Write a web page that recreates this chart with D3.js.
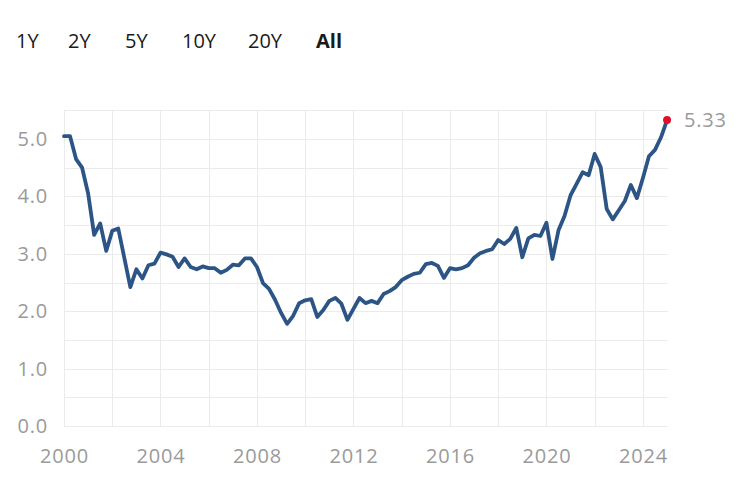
<!DOCTYPE html>
<html>
<head>
<meta charset="utf-8">
<script src="https://cdn.jsdelivr.net/npm/d3@7/dist/d3.min.js"></script>
<style>
  html, body { margin: 0; padding: 0; background: #fff; }
  svg { display: block; }
</style>
</head>
<body>
<svg id="chart" width="740" height="477"></svg>
<script>
const rangeButtons = ["1Y", "2Y", "5Y", "10Y", "20Y", "All"];
const activeButton = "All";
const startYear = 2000;
const values = [
  5.05, 5.05, 4.65, 4.50,
  4.05, 3.33, 3.53, 3.05,
  3.40, 3.44, 2.93, 2.42,
  2.73, 2.57, 2.80, 2.83,
  3.02, 2.99, 2.95, 2.77,
  2.92, 2.77, 2.73, 2.78,
  2.75, 2.75, 2.67, 2.72,
  2.81, 2.80, 2.92, 2.92,
  2.77, 2.49, 2.39, 2.20,
  1.97, 1.78, 1.92, 2.14,
  2.19, 2.21, 1.90, 2.02,
  2.18, 2.23, 2.13, 1.85,
  2.04, 2.23, 2.14, 2.18,
  2.14, 2.30, 2.35, 2.42,
  2.54, 2.60, 2.65, 2.67,
  2.82, 2.84, 2.79, 2.58,
  2.75, 2.73, 2.75, 2.80,
  2.93, 3.01, 3.05, 3.08,
  3.24, 3.17, 3.26, 3.45,
  2.94, 3.27, 3.33, 3.31,
  3.54, 2.91, 3.41, 3.66,
  4.02, 4.22, 4.42, 4.37,
  4.74, 4.51, 3.78, 3.60,
  3.76, 3.92, 4.20, 3.97,
  4.32, 4.70, 4.81, 5.03,
  5.33
];
const xTickLabels = [2000, 2004, 2008, 2012, 2016, 2020, 2024];
const xGrid = [2000, 2002, 2004, 2006, 2008, 2010, 2012, 2014, 2016, 2018, 2020, 2022, 2024];
const yTickLabels = [0, 1, 2, 3, 4, 5];
const yGrid = [0, 0.5, 1, 1.5, 2, 2.5, 3, 3.5, 4, 4.5, 5, 5.5];

const data = values.map((v, i) => ({ t: startYear + i / 4, v }));

const svg = d3.select("#chart");
const fontFam = "'Open Sans', 'Noto Sans', sans-serif";

// range buttons
const btnX = [16, 68, 125, 182, 248, 316];
svg.append("g").selectAll("text").data(rangeButtons).join("text")
  .attr("x", (d, i) => btnX[i])
  .attr("y", 48)
  .attr("font-family", fontFam)
  .attr("font-size", 20)
  .attr("font-weight", d => d === activeButton ? 700 : 400)
  .attr("fill", "#1a1a1a")
  .text(d => d);

const x = d3.scaleLinear().domain([2000, 2025.04]).range([64, 668]);
const y = d3.scaleLinear().domain([0, 5.5]).range([426, 110.3]);

const grid = svg.append("g");
grid.selectAll("line.h").data(yGrid).join("line")
  .attr("x1", x.range()[0]).attr("x2", x.range()[1])
  .attr("y1", d => Math.round(y(d)) + 0.5).attr("y2", d => Math.round(y(d)) + 0.5)
  .attr("stroke", "#ebebeb").attr("stroke-width", 1);
grid.selectAll("line.v").data(xGrid).join("line")
  .attr("x1", d => Math.round(x(d)) + 0.5).attr("x2", d => Math.round(x(d)) + 0.5)
  .attr("y1", y(5.5)).attr("y2", y(0))
  .attr("stroke", "#ebebeb").attr("stroke-width", 1);

// axes
const xAxis = d3.axisBottom(x).tickValues(xTickLabels).tickFormat(d3.format("d")).tickSize(0).tickPadding(23);
const gx = svg.append("g").attr("transform", `translate(0,${y(0)})`).call(xAxis);
gx.select(".domain").remove();
gx.selectAll("text").attr("font-family", fontFam).attr("font-size", 20)
  .attr("fill", "#9a9a9a").attr("letter-spacing", "0.8px");

const yAxis = d3.axisLeft(y).tickValues(yTickLabels).tickFormat(d3.format(".1f")).tickSize(0).tickPadding(16);
const gy = svg.append("g").attr("transform", `translate(${x(2000)},0)`).call(yAxis);
gy.select(".domain").remove();
gy.selectAll("text").attr("font-family", fontFam).attr("font-size", 20)
  .attr("fill", "#9a9a9a").attr("letter-spacing", "0.8px");

// line
const line = d3.line().x(d => x(d.t)).y(d => y(d.v));
svg.append("path").datum(data)
  .attr("d", line)
  .attr("fill", "none")
  .attr("stroke", "#2c5586")
  .attr("stroke-width", 3.8)
  .attr("stroke-linejoin", "round")
  .attr("stroke-linecap", "round");

const last = data[data.length - 1];
svg.append("circle")
  .attr("cx", x(last.t)).attr("cy", y(last.v)).attr("r", 4)
  .attr("fill", "#e0102c");

svg.append("text")
  .attr("x", x(last.t) + 17).attr("y", y(last.v) + 7)
  .attr("font-family", fontFam).attr("font-size", 20)
  .attr("fill", "#9a9a9a").attr("letter-spacing", "0.8px")
  .text(d3.format(".2f")(last.v));
</script>
</body>
</html>
